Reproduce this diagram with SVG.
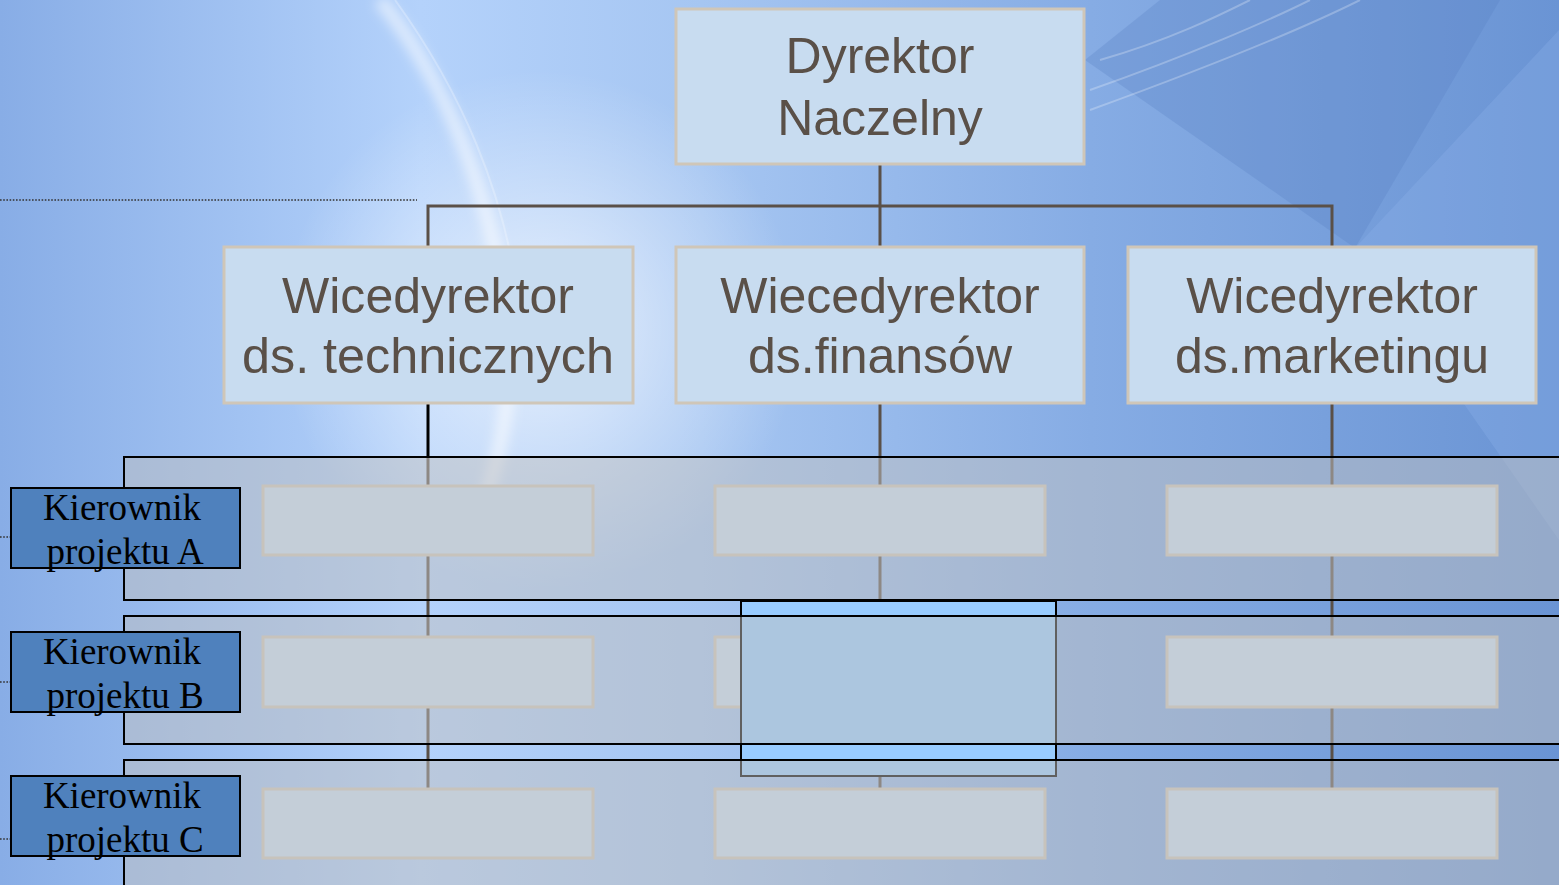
<svg xmlns="http://www.w3.org/2000/svg" width="1559" height="885" viewBox="0 0 1559 885">
<defs>
<linearGradient id="bg" x1="0" y1="0" x2="1" y2="0">
<stop offset="0" stop-color="#88ade6"/>
<stop offset="0.27" stop-color="#b4d2fb"/>
<stop offset="0.45" stop-color="#a6c6f2"/>
<stop offset="0.7" stop-color="#86ace4"/>
<stop offset="1" stop-color="#6a94d4"/>
</linearGradient>
<radialGradient id="glow" cx="540" cy="330" r="260" gradientUnits="userSpaceOnUse">
<stop offset="0" stop-color="#ffffff" stop-opacity="0.7"/>
<stop offset="1" stop-color="#ffffff" stop-opacity="0"/>
</radialGradient>
<filter id="blur" x="-20%" y="-20%" width="140%" height="140%"><feGaussianBlur stdDeviation="6"/></filter>
<style>
.box{fill:#c8dcf0;stroke:#cfc6b8;stroke-width:3}
.t{font-family:"Liberation Sans",Arial,sans-serif;font-size:50px;fill:#5a5048;text-anchor:middle}
.con{stroke:#5a5048;stroke-width:3;fill:none}
.band{fill:#c0c0c0;fill-opacity:0.5;stroke:#000;stroke-width:2}
.pm{fill:#4f81bd;stroke:#000;stroke-width:2}
.pt{font-family:"Liberation Serif","Times New Roman",serif;font-size:37px;fill:#000;text-anchor:middle}
.dot{stroke:#333;stroke-width:1.6;stroke-dasharray:1.6 1.6;fill:none}
</style>
</defs>
<g id="background">
<rect width="1559" height="885" fill="url(#bg)"/>
<rect width="1559" height="885" fill="url(#glow)"/>
<polygon points="1085,60 1355,248 1500,0 1160,0" fill="#5a80c4" fill-opacity="0.3"/>
<polygon points="1355,248 1559,30 1559,540" fill="#8fb4ea" fill-opacity="0.3"/>
<g filter="url(#blur)">
<path d="M380,0 C445,80 485,180 505,300 C515,380 505,440 485,500" stroke="#ffffff" stroke-opacity="0.55" stroke-width="14" fill="none"/>
</g>
<path d="M395,0 C460,90 505,190 520,310" stroke="#ffffff" stroke-opacity="0.25" stroke-width="2" fill="none"/>
<path d="M1090,110 C1200,70 1300,30 1360,0" stroke="#ffffff" stroke-opacity="0.25" stroke-width="2" fill="none"/>
<path d="M1090,90 C1190,55 1270,20 1310,0" stroke="#ffffff" stroke-opacity="0.25" stroke-width="2" fill="none"/>
<path d="M1100,60 C1170,40 1220,15 1250,0" stroke="#ffffff" stroke-opacity="0.25" stroke-width="2" fill="none"/>
</g>
<g id="connectors">
<line class="dot" x1="0" y1="200" x2="417" y2="200"/>
<line class="dot" x1="0" y1="537" x2="12" y2="537"/>
<line class="dot" x1="0" y1="682" x2="12" y2="682"/>
<line class="dot" x1="0" y1="839" x2="26" y2="839"/>
<path class="con" d="M880,164 V247 M428,247 V206 H1332 V247"/>
<line class="con" x1="428" y1="457" x2="428" y2="790"/>
<line x1="428" y1="403" x2="428" y2="457" stroke="#000" stroke-width="3"/>
<line class="con" x1="880" y1="403" x2="880" y2="790"/>
<line class="con" x1="1332" y1="403" x2="1332" y2="790"/>
</g>
<g id="dyrektor"><rect class="box" x="676" y="9" width="408" height="155"/><text class="t" x="880" y="73">Dyrektor</text><text class="t" x="880" y="135">Naczelny</text></g>
<g id="wice-tech"><rect class="box" x="224" y="247" width="409" height="156"/><text class="t" x="428" y="313" textLength="292" lengthAdjust="spacingAndGlyphs">Wicedyrektor</text><text class="t" x="428" y="373" textLength="372" lengthAdjust="spacingAndGlyphs">ds. technicznych</text></g>
<g id="wice-fin"><rect class="box" x="676" y="247" width="408" height="156"/><text class="t" x="880" y="313">Wiecedyrektor</text><text class="t" x="880" y="373">ds.finansów</text></g>
<g id="wice-mark"><rect class="box" x="1128" y="247" width="408" height="156"/><text class="t" x="1332" y="313">Wicedyrektor</text><text class="t" x="1332" y="373">ds.marketingu</text></g>
<g id="cells">
<rect class="box" x="263" y="486" width="330" height="69"/>
<rect class="box" x="715" y="486" width="330" height="69"/>
<rect class="box" x="1167" y="486" width="330" height="69"/>
<rect class="box" x="263" y="637" width="330" height="70"/>
<rect class="box" x="715" y="637" width="330" height="70"/>
<rect class="box" x="1167" y="637" width="330" height="70"/>
<rect class="box" x="263" y="789" width="330" height="69"/>
<rect class="box" x="715" y="789" width="330" height="69"/>
<rect class="box" x="1167" y="789" width="330" height="69"/>
</g>
<g id="overlay"><rect x="741" y="601" width="315" height="175" fill="#99ccff" stroke="#000" stroke-width="2"/></g>
<g id="bands">
<rect class="band" x="124" y="457" width="1450" height="143"/>
<rect class="band" x="124" y="616" width="1450" height="128"/>
<rect class="band" x="124" y="760" width="1450" height="140"/>
</g>
<g id="kierownik-a"><rect class="pm" x="11" y="488" width="229" height="80"/><text class="pt" x="122" y="520">Kierownik</text><text class="pt" x="125" y="564">projektu A</text></g>
<g id="kierownik-b"><rect class="pm" x="11" y="632" width="229" height="80"/><text class="pt" x="122" y="664">Kierownik</text><text class="pt" x="125" y="708">projektu B</text></g>
<g id="kierownik-c"><rect class="pm" x="11" y="776" width="229" height="80"/><text class="pt" x="122" y="808">Kierownik</text><text class="pt" x="125" y="852">projektu C</text></g>
</svg>
